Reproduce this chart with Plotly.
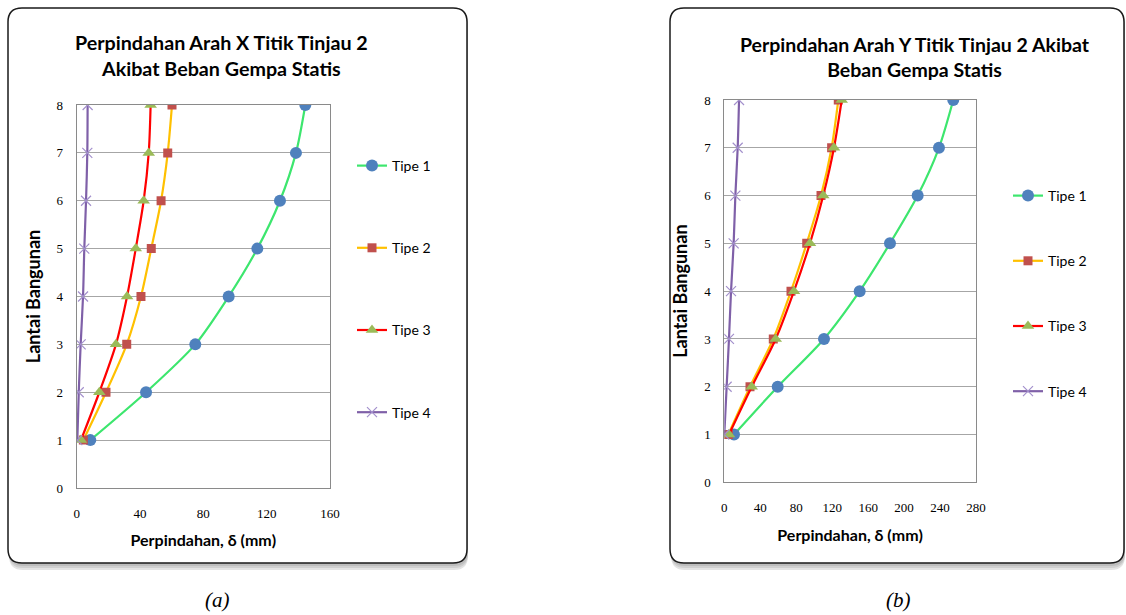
import plotly.graph_objects as go

W, H = 1126, 615

floors = [1, 2, 3, 4, 5, 6, 7, 8]
series_names = ["Tipe 1", "Tipe 2", "Tipe 3", "Tipe 4"]

# Panel (a): displacement in X direction (mm)
x_tipe1 = [8.6, 43.8, 74.9, 96.0, 114.1, 128.4, 138.5, 144.4]
x_tipe2 = [4.2, 18.5, 31.6, 40.6, 47.1, 53.3, 57.5, 60.2]
x_tipe3 = [2.7, 14.3, 24.8, 31.8, 37.3, 42.3, 45.5, 46.7]
x_tipe4 = [0.4, 1.3, 2.5, 4.0, 4.8, 5.9, 6.7, 6.9]

# Panel (b): displacement in Y direction (mm)
y_tipe1 = [10.8, 59.4, 110.9, 150.6, 184.3, 215.1, 238.8, 254.7]
y_tipe2 = [4.5, 28.6, 54.5, 74.2, 91.7, 107.6, 119.4, 126.8]
y_tipe3 = [5.2, 30.5, 57.2, 77.5, 95.3, 110.1, 122.0, 130.6]
y_tipe4 = [0.0, 2.6, 5.2, 7.5, 10.4, 12.3, 14.9, 16.4]

y_ticks = [0, 1, 2, 3, 4, 5, 6, 7, 8]
xa_ticks = [0, 40, 80, 120, 160]
xb_ticks = [0, 40, 80, 120, 160, 200, 240, 280]

title_a = "Perpindahan Arah X Titik Tinjau 2<br>Akibat Beban Gempa Statis"
title_b = "Perpindahan Arah Y Titik Tinjau 2 Akibat<br>Beban Gempa Statis"
x_title = "Perpindahan, δ (mm)"
y_title = "Lantai Bangunan"

line_colors = ["#3DE66E", "#FFC000", "#FF0000", "#7F60A8"]
marker_colors = ["#4F81BD", "#C0504D", "#9BBB59", "#A390CC"]
symbols = ["circle", "square", "triangle-up", "x-thin"]
msizes = [12, 9, 11, 10]

TITLE_FONT = "Lato"
TICK_FONT = "Liberation Serif"

fig = go.Figure()

data_a = [x_tipe1, x_tipe2, x_tipe3, x_tipe4]
data_b = [y_tipe1, y_tipe2, y_tipe3, y_tipe4]

for i, name in enumerate(series_names):
    mk = dict(symbol=symbols[i], size=msizes[i], color=marker_colors[i])
    if symbols[i] == "x-thin":
        mk["line"] = dict(color=marker_colors[i], width=1.2)
    fig.add_trace(go.Scatter(
        x=data_a[i], y=floors, name=name, mode="lines+markers",
        line=dict(color=line_colors[i], width=2.2, shape="spline", smoothing=0.8),
        marker=mk, xaxis="x", yaxis="y", legend="legend", legendgroup="a" + str(i)))
for i, name in enumerate(series_names):
    mk = dict(symbol=symbols[i], size=msizes[i], color=marker_colors[i])
    if symbols[i] == "x-thin":
        mk["line"] = dict(color=marker_colors[i], width=1.2)
    fig.add_trace(go.Scatter(
        x=data_b[i], y=floors, name=name, mode="lines+markers",
        line=dict(color=line_colors[i], width=2.2, shape="spline", smoothing=0.8),
        marker=mk, xaxis="x2", yaxis="y2", legend="legend2", legendgroup="b" + str(i)))


def px(x):
    return x / W


def py(y):
    return 1 - y / H


def rounded(x0, y0, x1, y1, r):
    rx, ry = r / W, r / H
    X0, X1 = px(x0), px(x1)
    Y0, Y1 = py(y0), py(y1)  # Y0 top, Y1 bottom
    return (f"M {X0+rx},{Y0} L {X1-rx},{Y0} Q {X1},{Y0} {X1},{Y0-ry} "
            f"L {X1},{Y1+ry} Q {X1},{Y1} {X1-rx},{Y1} L {X0+rx},{Y1} "
            f"Q {X0},{Y1} {X0},{Y1+ry} L {X0},{Y0-ry} Q {X0},{Y0} {X0+rx},{Y0} Z")


shapes = []
for (x0, y0, x1, y1) in [(8, 8, 467, 563), (670, 8, 1124, 563)]:
    for k, col in enumerate(["#e4e4e4", "#d0d0d0", "#bdbdbd"]):
        off = 7 - 2 * k
        shapes.append(dict(type="path", xref="paper", yref="paper", layer="below",
                           path=rounded(x0 + 1, y0 + off, x1 + 1, y1 + off, 14),
                           fillcolor=col, line=dict(width=0)))
    shapes.append(dict(type="path", xref="paper", yref="paper", layer="below",
                       path=rounded(x0, y0, x1, y1, 14),
                       fillcolor="white", line=dict(color="#1a1a1a", width=1.5)))

axis_common = dict(showline=True, mirror=True, linecolor="#8a8a8a", linewidth=1,
                   zeroline=False, ticks="", automargin=False,
                   tickfont=dict(family=TICK_FONT, size=13, color="#000"))
axis_title_font = dict(family=TITLE_FONT, size=16, color="#000", weight="bold")
y_title_font = dict(family=TITLE_FONT, size=18, color="#000", weight="bold")

fig.update_layout(
    width=W, height=H, margin=dict(l=0, r=0, t=0, b=0, pad=0, autoexpand=False),
    paper_bgcolor="white", plot_bgcolor="white",
    shapes=shapes,
    xaxis=dict(domain=[px(76.7), px(330)], range=[0, 160], tickvals=xa_ticks,
               showgrid=False, anchor="y", ticklabelstandoff=13,
               title=dict(text=x_title, font=axis_title_font, standoff=15), **axis_common),
    yaxis=dict(domain=[py(488), py(105)], range=[0, 8], tickvals=y_ticks,
               showgrid=True, gridcolor="#a6a6a6", gridwidth=1, anchor="x",
               ticklabelstandoff=10,
               title=dict(text=y_title, font=y_title_font, standoff=11), **axis_common),
    xaxis2=dict(domain=[px(724.3), px(976)], range=[0, 280], tickvals=xb_ticks,
                showgrid=False, anchor="y2", ticklabelstandoff=13,
                title=dict(text=x_title, font=axis_title_font, standoff=15), **axis_common),
    yaxis2=dict(domain=[py(482.3), py(100)], range=[0, 8], tickvals=y_ticks,
                showgrid=True, gridcolor="#a6a6a6", gridwidth=1, anchor="x2",
                ticklabelstandoff=10,
                title=dict(text=y_title, font=y_title_font, standoff=11), **axis_common),
    legend=dict(x=px(352), y=py(150), xanchor="left", yanchor="top",
                bgcolor="rgba(0,0,0,0)", itemwidth=30, tracegroupgap=61,
                font=dict(family=TITLE_FONT, size=14, color="#000")),
    legend2=dict(x=px(1008), y=py(180), xanchor="left", yanchor="top",
                 bgcolor="rgba(0,0,0,0)", itemwidth=30, tracegroupgap=44,
                 font=dict(family=TITLE_FONT, size=14, color="#000")),
    showlegend=True,
    annotations=[
        dict(text="<b>" + title_a + "</b>", x=px(221), y=py(55), xref="paper", yref="paper",
             showarrow=False, xanchor="center", yanchor="middle",
             font=dict(family=TITLE_FONT, size=19.7, color="#000")),
        dict(text="<b>" + title_b + "</b>", x=px(915), y=py(57), xref="paper", yref="paper",
             showarrow=False, xanchor="center", yanchor="middle",
             font=dict(family=TITLE_FONT, size=19.5, color="#000")),
        dict(text="<i>(a)</i>", x=px(217), y=py(600), xref="paper", yref="paper",
             showarrow=False, xanchor="center", yanchor="middle",
             font=dict(family="Liberation Serif", size=21, color="#000")),
        dict(text="<i>(b)</i>", x=px(898), y=py(600), xref="paper", yref="paper",
             showarrow=False, xanchor="center", yanchor="middle",
             font=dict(family="Liberation Serif", size=21, color="#000")),
    ],
)

fig.write_html("out.html",
               post_script="document.body.style.margin='0px';document.body.style.overflow='hidden';")
